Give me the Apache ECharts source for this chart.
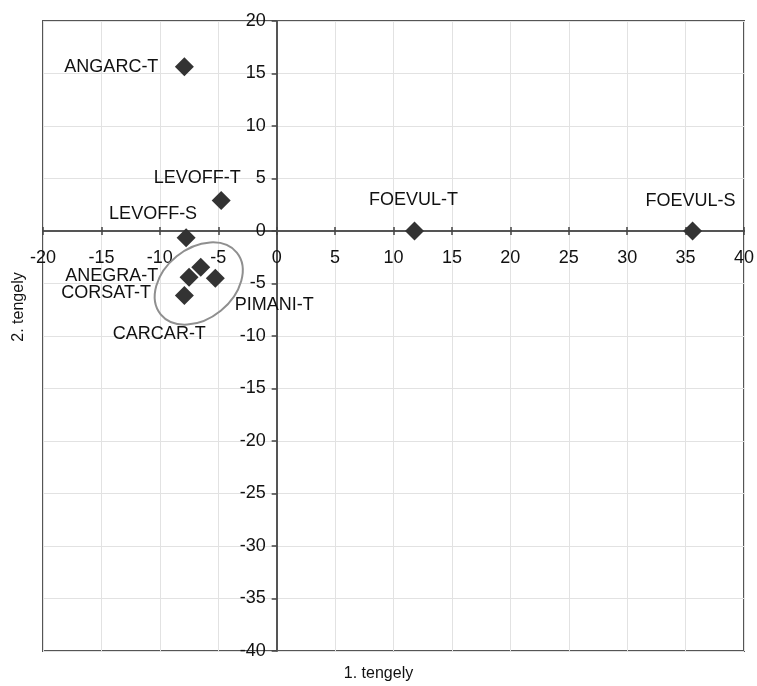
<!DOCTYPE html>
<html>
<head>
<meta charset="utf-8">
<script src="https://cdn.jsdelivr.net/npm/echarts@6/dist/echarts.min.js"></script>
<style>
  html, body { margin: 0; padding: 0; background: #fff; }
  #chart { width: 757px; height: 686px; }
</style>
</head>
<body>
<div id="chart"></div>
<script>
// Ordination scores of the samples on the first two axes
const pointNames = ['ANGARC-T', 'LEVOFF-T', 'LEVOFF-S', 'FOEVUL-T', 'FOEVUL-S', 'ANEGRA-T', 'CORSAT-T', 'PIMANI-T', 'CARCAR-T'];
const axis1Scores = [-7.9, -4.75, -7.75, 11.8, 35.6, -6.5, -7.5, -5.25, -7.9];
const axis2Scores = [15.65, 2.9, -0.65, 0, 0, -3.45, -4.4, -4.5, -6.15];

// Axis ranges and tick step
const xRange = [-20, 40];
const yRange = [-40, 20];
const tickStep = 5;

// Centre of the ellipse grouping the clustered samples (data units)
const groupCentre = [-6.67, -5.0];

// Where each name sits relative to its marker (pixels)
const labelOffsets = [[-73, 0], [-24, -23], [-33, -24], [-1, -31], [-2, -30], [-89, 9], [-83, 16], [59, 27], [-25, 38]];

const FONT = "'Liberation Sans', Arial, sans-serif";
const chart = echarts.init(document.getElementById('chart'));

const points = pointNames.map((name, i) => ({
  name: name,
  value: [axis1Scores[i], axis2Scores[i]],
  label: { offset: labelOffsets[i] }
}));

const axisLineStyle = { color: '#555', width: 2 };
const tickStyle = { color: '#444', width: 1.5 };
const gridLineStyle = { color: '#e2e2e2', width: 1 };

chart.setOption({
  animation: false,
  grid: {
    left: 43, right: 13, top: 21, bottom: 35,
    show: true, borderColor: '#555', borderWidth: 2,
    outerBoundsMode: 'none'
  },
  xAxis: [{
    type: 'value', min: xRange[0], max: xRange[1], interval: tickStep,
    position: 'bottom', offset: 0,
    axisLine: { onZero: false, lineStyle: axisLineStyle },
    axisTick: { show: true, length: 4, lineStyle: tickStyle },
    axisLabel: { color: '#111', fontSize: 18, fontFamily: FONT, margin: 18 },
    splitLine: { show: true, lineStyle: gridLineStyle }
  }, {
    // upper half of the crossing ticks on the horizontal zero line
    type: 'value', min: xRange[0], max: xRange[1], interval: tickStep,
    position: 'top', offset: 0,
    axisLine: { onZero: false, lineStyle: axisLineStyle },
    axisTick: { show: true, length: 4, lineStyle: tickStyle },
    axisLabel: { show: false },
    splitLine: { show: false }
  }],
  yAxis: {
    type: 'value', min: yRange[0], max: yRange[1], interval: tickStep,
    position: 'left', offset: 0,
    axisLine: { onZero: false, lineStyle: axisLineStyle },
    axisTick: { show: true, length: 5, lineStyle: tickStyle },
    axisLabel: { color: '#111', fontSize: 18, fontFamily: FONT, margin: 11 },
    splitLine: { show: true, lineStyle: gridLineStyle }
  },
  graphic: [
    { type: 'text', left: 'center', top: 666,
      style: { text: '1. tengely', fill: '#111', font: '16px ' + FONT } },
    { type: 'text', x: 19, y: 307, rotation: Math.PI / 2,
      style: { text: '2. tengely', fill: '#111', font: '16px ' + FONT, align: 'center', verticalAlign: 'middle' } }
  ],
  series: [{
    type: 'scatter',
    xAxisIndex: 0,
    symbol: 'diamond',
    symbolSize: 19,
    itemStyle: { color: '#333', opacity: 1 },
    label: {
      show: true, position: 'inside', formatter: '{b}',
      color: '#111', fontSize: 18, fontFamily: FONT
    },
    data: points,
    z: 5
  }, {
    type: 'custom',
    xAxisIndex: 0,
    data: [groupCentre],
    renderItem: function (params, api) {
      const c = api.coord([api.value(0), api.value(1)]);
      return {
        type: 'ellipse',
        x: c[0], y: c[1],
        rotation: 39 * Math.PI / 180,
        shape: { cx: 0, cy: 0, rx: 49, ry: 35 },
        style: { fill: 'none', stroke: '#8f8f8f', lineWidth: 2 }
      };
    },
    z: 4
  }]
});

// Move the axes onto the zero lines, using the axes' own scales
const zeroX = chart.convertToPixel({ xAxisIndex: 0 }, 0);
const leftX = chart.convertToPixel({ xAxisIndex: 0 }, xRange[0]);
const zeroY = chart.convertToPixel({ yAxisIndex: 0 }, 0);
const bottomY = chart.convertToPixel({ yAxisIndex: 0 }, yRange[0]);
const topY = chart.convertToPixel({ yAxisIndex: 0 }, yRange[1]);

chart.setOption({
  xAxis: [{ offset: -(bottomY - zeroY) }, { offset: -(zeroY - topY) }],
  yAxis: { offset: -(zeroX - leftX) }
});
</script>
</body>
</html>
